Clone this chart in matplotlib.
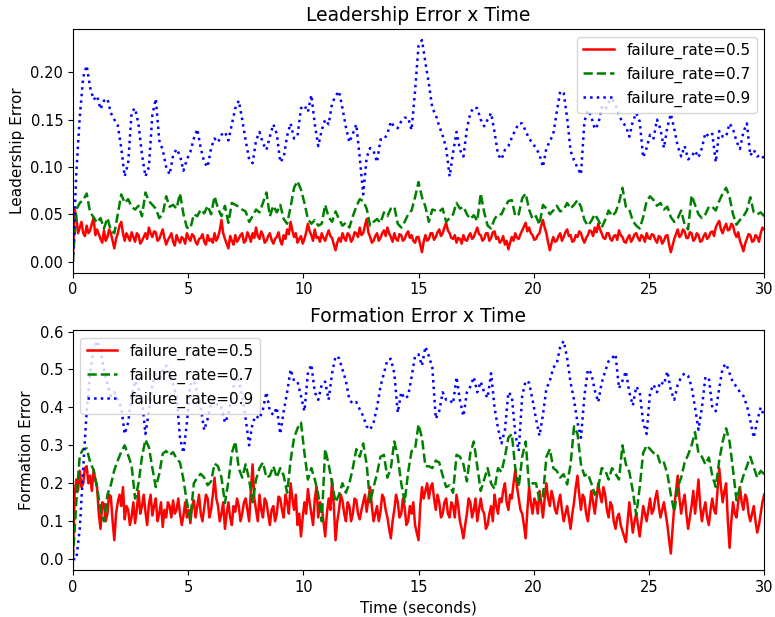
import numpy as np
import matplotlib.pyplot as plt

# leadership error, one row = 3 s
# (failure_rate=0.5 is sampled twice as often as the others, it is the noisiest)
lead_05 = [
    0.0, 0.055, 0.048, 0.03, 0.036, 0.042, 0.03, 0.027, 0.038, 0.03, 0.033, 0.04, 0.046, 0.028, 0.034, 0.029, 0.024, 0.02, 0.033, 0.022,
    0.026, 0.034, 0.03, 0.022, 0.014, 0.024, 0.03, 0.038, 0.042, 0.03, 0.022, 0.03, 0.026, 0.022, 0.031, 0.026, 0.021, 0.03, 0.028, 0.019,
    0.022, 0.026, 0.03, 0.024, 0.036, 0.03, 0.026, 0.032, 0.031, 0.022, 0.024, 0.029, 0.034, 0.025, 0.018, 0.023, 0.026, 0.03, 0.021, 0.017,
    0.028, 0.023, 0.02, 0.026, 0.024, 0.019, 0.03, 0.025, 0.022, 0.029, 0.027, 0.021, 0.018, 0.024, 0.025, 0.029, 0.021, 0.018, 0.028, 0.022,
    0.024, 0.02, 0.03, 0.022, 0.026, 0.033, 0.044, 0.03, 0.024, 0.019, 0.014, 0.027, 0.022, 0.018, 0.028, 0.021, 0.024, 0.028, 0.03, 0.02,
    0.022, 0.031, 0.027, 0.021, 0.03, 0.025, 0.036, 0.027, 0.024, 0.032, 0.028, 0.02, 0.022, 0.027, 0.03, 0.023, 0.019, 0.024, 0.026, 0.031,
    0.022, 0.018, 0.028, 0.024, 0.034, 0.029, 0.042, 0.033, 0.026, 0.03, 0.02, 0.024, 0.027, 0.019, 0.024, 0.031, 0.04, 0.032, 0.028, 0.022,
    0.034, 0.025, 0.026, 0.021, 0.03, 0.025, 0.022, 0.028, 0.033, 0.027, 0.025, 0.018, 0.012, 0.02, 0.025, 0.021, 0.03, 0.025, 0.022, 0.03,
    0.028, 0.021, 0.024, 0.031, 0.03, 0.026, 0.036, 0.028, 0.03, 0.038, 0.045, 0.031, 0.026, 0.02, 0.022, 0.027, 0.03, 0.022, 0.025, 0.03,
    0.033, 0.027, 0.036, 0.03, 0.026, 0.021, 0.03, 0.024, 0.022, 0.029, 0.028, 0.022, 0.024, 0.029, 0.032, 0.025, 0.028, 0.022, 0.02, 0.026,
    0.026, 0.018, 0.01, 0.021, 0.028, 0.022, 0.024, 0.03, 0.03, 0.023, 0.026, 0.031, 0.034, 0.027, 0.03, 0.036, 0.041, 0.033, 0.03, 0.025,
    0.024, 0.028, 0.02, 0.025, 0.024, 0.019, 0.028, 0.023, 0.022, 0.027, 0.03, 0.024, 0.026, 0.031, 0.036, 0.029, 0.028, 0.022, 0.024, 0.03,
    0.03, 0.022, 0.025, 0.031, 0.032, 0.024, 0.026, 0.02, 0.022, 0.027, 0.018, 0.022, 0.013, 0.02, 0.026, 0.022, 0.03, 0.025, 0.024, 0.029,
    0.033, 0.037, 0.041, 0.032, 0.036, 0.03, 0.028, 0.023, 0.024, 0.028, 0.03, 0.038, 0.044, 0.036, 0.03, 0.02, 0.012, 0.02, 0.026, 0.021,
    0.022, 0.027, 0.03, 0.022, 0.026, 0.031, 0.034, 0.027, 0.028, 0.021, 0.022, 0.028, 0.026, 0.032, 0.03, 0.024, 0.02, 0.025, 0.028, 0.033,
    0.032, 0.027, 0.036, 0.031, 0.04, 0.034, 0.03, 0.025, 0.024, 0.03, 0.03, 0.024, 0.022, 0.027, 0.028, 0.023, 0.033, 0.028, 0.026, 0.021,
    0.02, 0.025, 0.028, 0.021, 0.024, 0.029, 0.03, 0.025, 0.022, 0.028, 0.026, 0.021, 0.03, 0.025, 0.024, 0.029, 0.028, 0.023, 0.02, 0.027,
    0.026, 0.019, 0.022, 0.027, 0.028, 0.018, 0.01, 0.017, 0.024, 0.029, 0.034, 0.026, 0.028, 0.034, 0.032, 0.025, 0.025, 0.031, 0.03, 0.022,
    0.024, 0.03, 0.028, 0.021, 0.022, 0.027, 0.03, 0.024, 0.026, 0.031, 0.032, 0.027, 0.036, 0.04, 0.043, 0.034, 0.03, 0.036, 0.04, 0.033,
    0.034, 0.04, 0.038, 0.03, 0.026, 0.031, 0.022, 0.017, 0.011, 0.019, 0.024, 0.029, 0.028, 0.021, 0.022, 0.028, 0.026, 0.021, 0.03, 0.036,
    0.034]
lead_07 = [
    0.0, 0.055, 0.062, 0.065, 0.072, 0.052, 0.047, 0.041, 0.046, 0.035, 0.046, 0.033, 0.03, 0.05, 0.071, 0.062, 0.066, 0.058, 0.055, 0.059,
    0.048, 0.073, 0.064, 0.06, 0.056, 0.046, 0.05, 0.069, 0.058, 0.06, 0.056, 0.072, 0.05, 0.036, 0.035, 0.05, 0.048, 0.055, 0.051, 0.059,
    0.05, 0.069, 0.056, 0.048, 0.059, 0.041, 0.062, 0.06, 0.058, 0.055, 0.053, 0.042, 0.048, 0.055, 0.052, 0.062, 0.073, 0.048, 0.059, 0.052,
    0.06, 0.045, 0.04, 0.058, 0.078, 0.085, 0.076, 0.062, 0.045, 0.04, 0.044, 0.038, 0.04, 0.06, 0.047, 0.042, 0.053, 0.045, 0.038, 0.041,
    0.036, 0.048, 0.058, 0.066, 0.064, 0.056, 0.038, 0.042, 0.045, 0.041, 0.052, 0.048, 0.056, 0.058, 0.04, 0.036, 0.042, 0.05, 0.054, 0.068,
    0.084, 0.068, 0.058, 0.042, 0.055, 0.054, 0.053, 0.056, 0.042, 0.046, 0.05, 0.062, 0.056, 0.058, 0.05, 0.045, 0.049, 0.043, 0.072, 0.052,
    0.038, 0.035, 0.045, 0.05, 0.05, 0.058, 0.064, 0.065, 0.048, 0.05, 0.067, 0.072, 0.055, 0.045, 0.048, 0.039, 0.06, 0.056, 0.05, 0.054,
    0.059, 0.053, 0.055, 0.062, 0.056, 0.06, 0.065, 0.058, 0.044, 0.038, 0.043, 0.05, 0.044, 0.036, 0.044, 0.054, 0.048, 0.052, 0.062, 0.078,
    0.058, 0.055, 0.043, 0.038, 0.035, 0.047, 0.064, 0.069, 0.065, 0.059, 0.062, 0.055, 0.058, 0.047, 0.042, 0.046, 0.054, 0.039, 0.034, 0.07,
    0.06, 0.05, 0.046, 0.05, 0.058, 0.058, 0.054, 0.064, 0.072, 0.078, 0.068, 0.05, 0.039, 0.044, 0.048, 0.054, 0.068, 0.052, 0.05, 0.052,
    0.048]
lead_09 = [
    0.0, 0.094, 0.153, 0.195, 0.207, 0.184, 0.171, 0.175, 0.161, 0.17, 0.172, 0.157, 0.15, 0.144, 0.12, 0.09, 0.104, 0.158, 0.162, 0.145,
    0.113, 0.09, 0.1, 0.155, 0.172, 0.128, 0.118, 0.1, 0.092, 0.112, 0.119, 0.112, 0.096, 0.108, 0.116, 0.13, 0.14, 0.12, 0.105, 0.1,
    0.12, 0.13, 0.126, 0.134, 0.137, 0.128, 0.145, 0.162, 0.17, 0.15, 0.128, 0.108, 0.104, 0.128, 0.137, 0.125, 0.118, 0.132, 0.145, 0.135,
    0.105, 0.11, 0.133, 0.146, 0.13, 0.133, 0.162, 0.165, 0.158, 0.176, 0.145, 0.122, 0.139, 0.15, 0.145, 0.167, 0.175, 0.18, 0.162, 0.142,
    0.126, 0.135, 0.145, 0.11, 0.071, 0.11, 0.12, 0.117, 0.105, 0.129, 0.129, 0.135, 0.148, 0.142, 0.141, 0.148, 0.152, 0.152, 0.139, 0.18,
    0.228, 0.234, 0.21, 0.188, 0.162, 0.155, 0.143, 0.133, 0.12, 0.09, 0.115, 0.137, 0.118, 0.111, 0.14, 0.157, 0.163, 0.162, 0.15, 0.143,
    0.15, 0.157, 0.137, 0.113, 0.108, 0.118, 0.122, 0.131, 0.139, 0.146, 0.146, 0.138, 0.13, 0.125, 0.12, 0.113, 0.1, 0.12, 0.127, 0.135,
    0.158, 0.18, 0.178, 0.152, 0.117, 0.107, 0.099, 0.092, 0.148, 0.16, 0.153, 0.14, 0.145, 0.163, 0.16, 0.168, 0.172, 0.166, 0.155, 0.147,
    0.143, 0.132, 0.148, 0.157, 0.148, 0.11, 0.12, 0.134, 0.13, 0.15, 0.14, 0.12, 0.142, 0.156, 0.14, 0.122, 0.111, 0.122, 0.108, 0.111,
    0.117, 0.11, 0.12, 0.136, 0.132, 0.135, 0.105, 0.138, 0.132, 0.132, 0.146, 0.14, 0.127, 0.119, 0.137, 0.146, 0.112, 0.118, 0.111, 0.113,
    0.109]

# formation error
form_05 = [
    0.0, 0.17, 0.21, 0.18, 0.233, 0.19, 0.2, 0.24, 0.245, 0.2, 0.22, 0.18, 0.235, 0.21, 0.19, 0.12, 0.08, 0.15, 0.145, 0.1,
    0.12, 0.17, 0.165, 0.1, 0.05, 0.12, 0.15, 0.17, 0.14, 0.19, 0.105, 0.14, 0.13, 0.09, 0.112, 0.15, 0.095, 0.13, 0.18, 0.12,
    0.14, 0.17, 0.125, 0.09, 0.145, 0.17, 0.115, 0.14, 0.16, 0.1, 0.12, 0.15, 0.085, 0.13, 0.11, 0.15, 0.14, 0.11, 0.155, 0.12,
    0.13, 0.16, 0.12, 0.09, 0.115, 0.15, 0.11, 0.13, 0.095, 0.14, 0.155, 0.11, 0.14, 0.17, 0.12, 0.1, 0.135, 0.17, 0.16, 0.11,
    0.13, 0.17, 0.215, 0.16, 0.14, 0.1, 0.12, 0.15, 0.08, 0.12, 0.15, 0.11, 0.09, 0.14, 0.125, 0.16, 0.14, 0.1, 0.12, 0.15,
    0.16, 0.13, 0.1, 0.18, 0.25, 0.16, 0.13, 0.1, 0.17, 0.13, 0.11, 0.16, 0.15, 0.12, 0.09, 0.13, 0.14, 0.1, 0.12, 0.165,
    0.16, 0.13, 0.11, 0.17, 0.15, 0.12, 0.2, 0.16, 0.13, 0.17, 0.09, 0.12, 0.06, 0.11, 0.15, 0.12, 0.185, 0.15, 0.12, 0.09,
    0.16, 0.19, 0.11, 0.15, 0.14, 0.1, 0.06, 0.12, 0.16, 0.13, 0.21, 0.14, 0.05, 0.1, 0.13, 0.17, 0.155, 0.12, 0.1, 0.15,
    0.14, 0.1, 0.12, 0.16, 0.155, 0.12, 0.105, 0.13, 0.15, 0.17, 0.125, 0.16, 0.19, 0.14, 0.1, 0.12, 0.14, 0.1, 0.125, 0.17,
    0.16, 0.13, 0.11, 0.08, 0.055, 0.1, 0.13, 0.17, 0.15, 0.11, 0.12, 0.16, 0.135, 0.09, 0.1, 0.14, 0.12, 0.15, 0.09, 0.07,
    0.05, 0.14, 0.19, 0.16, 0.18, 0.2, 0.16, 0.19, 0.2, 0.16, 0.13, 0.17, 0.15, 0.11, 0.12, 0.15, 0.16, 0.12, 0.11, 0.15,
    0.14, 0.11, 0.17, 0.14, 0.1, 0.08, 0.055, 0.09, 0.12, 0.16, 0.15, 0.11, 0.13, 0.16, 0.1, 0.13, 0.16, 0.13, 0.12, 0.08,
    0.09, 0.12, 0.14, 0.1, 0.17, 0.14, 0.12, 0.16, 0.15, 0.18, 0.2, 0.15, 0.13, 0.17, 0.16, 0.2, 0.235, 0.19, 0.16, 0.13,
    0.12, 0.09, 0.055, 0.13, 0.19, 0.15, 0.12, 0.16, 0.15, 0.12, 0.18, 0.15, 0.11, 0.16, 0.2, 0.16, 0.14, 0.18, 0.16, 0.13,
    0.12, 0.15, 0.17, 0.13, 0.1, 0.12, 0.14, 0.11, 0.08, 0.12, 0.15, 0.19, 0.22, 0.17, 0.13, 0.17, 0.16, 0.12, 0.1, 0.14,
    0.18, 0.15, 0.12, 0.16, 0.2, 0.17, 0.15, 0.19, 0.17, 0.13, 0.11, 0.15, 0.14, 0.1, 0.08, 0.11, 0.12, 0.09, 0.075, 0.06,
    0.045, 0.1, 0.15, 0.11, 0.07, 0.1, 0.12, 0.09, 0.06, 0.1, 0.14, 0.12, 0.1, 0.13, 0.16, 0.12, 0.13, 0.16, 0.18, 0.14,
    0.11, 0.13, 0.15, 0.12, 0.09, 0.05, 0.015, 0.08, 0.14, 0.18, 0.22, 0.16, 0.12, 0.15, 0.17, 0.12, 0.08, 0.11, 0.14, 0.18,
    0.12, 0.16, 0.21, 0.14, 0.1, 0.13, 0.15, 0.11, 0.09, 0.13, 0.16, 0.13, 0.12, 0.18, 0.24, 0.19, 0.15, 0.18, 0.2, 0.1,
    0.03, 0.1, 0.15, 0.12, 0.11, 0.15, 0.19, 0.15, 0.13, 0.17, 0.16, 0.12, 0.1, 0.12, 0.14, 0.1, 0.07, 0.09, 0.12, 0.15,
    0.17]
form_07 = [
    0.0, 0.15, 0.274, 0.29, 0.292, 0.256, 0.235, 0.19, 0.13, 0.1, 0.17, 0.196, 0.235, 0.26, 0.283, 0.3, 0.274, 0.247, 0.16, 0.2,
    0.27, 0.315, 0.295, 0.24, 0.19, 0.225, 0.278, 0.285, 0.274, 0.282, 0.265, 0.255, 0.21, 0.15, 0.105, 0.2, 0.215, 0.225, 0.215, 0.195,
    0.205, 0.252, 0.245, 0.215, 0.148, 0.205, 0.28, 0.31, 0.24, 0.215, 0.25, 0.21, 0.15, 0.21, 0.24, 0.255, 0.215, 0.22, 0.245, 0.215,
    0.24, 0.22, 0.175, 0.26, 0.32, 0.345, 0.36, 0.28, 0.21, 0.24, 0.21, 0.17, 0.1, 0.29, 0.25, 0.2, 0.15, 0.17, 0.2, 0.175,
    0.2, 0.24, 0.29, 0.27, 0.305, 0.25, 0.15, 0.19, 0.225, 0.27, 0.275, 0.215, 0.24, 0.31, 0.27, 0.2, 0.15, 0.23, 0.285, 0.29,
    0.355, 0.32, 0.245, 0.245, 0.24, 0.26, 0.255, 0.22, 0.19, 0.195, 0.175, 0.275, 0.27, 0.25, 0.205, 0.28, 0.31, 0.245, 0.18, 0.21,
    0.24, 0.2, 0.185, 0.24, 0.23, 0.27, 0.32, 0.33, 0.24, 0.19, 0.27, 0.31, 0.19, 0.2, 0.2, 0.155, 0.165, 0.27, 0.29, 0.24,
    0.233, 0.215, 0.224, 0.197, 0.25, 0.35, 0.33, 0.25, 0.22, 0.225, 0.2, 0.17, 0.19, 0.24, 0.235, 0.21, 0.24, 0.225, 0.21, 0.3,
    0.25, 0.23, 0.18, 0.116, 0.19, 0.28, 0.3, 0.29, 0.28, 0.28, 0.25, 0.255, 0.225, 0.17, 0.125, 0.19, 0.215, 0.255, 0.275, 0.3,
    0.335, 0.28, 0.27, 0.25, 0.268, 0.22, 0.19, 0.26, 0.31, 0.345, 0.31, 0.235, 0.155, 0.19, 0.22, 0.245, 0.27, 0.242, 0.215, 0.233,
    0.224]
form_09 = [
    0.0, 0.0, 0.08, 0.24, 0.39, 0.49, 0.555, 0.575, 0.55, 0.5, 0.46, 0.43, 0.44, 0.42, 0.4, 0.33, 0.36, 0.43, 0.47, 0.45,
    0.42, 0.33, 0.39, 0.46, 0.49, 0.47, 0.5, 0.51, 0.49, 0.46, 0.43, 0.32, 0.28, 0.36, 0.46, 0.47, 0.44, 0.4, 0.34, 0.37,
    0.41, 0.43, 0.4, 0.4, 0.36, 0.38, 0.43, 0.48, 0.47, 0.43, 0.37, 0.3, 0.36, 0.378, 0.37, 0.395, 0.44, 0.39, 0.38, 0.4,
    0.33, 0.39, 0.44, 0.5, 0.47, 0.468, 0.43, 0.39, 0.49, 0.513, 0.44, 0.42, 0.46, 0.468, 0.42, 0.49, 0.535, 0.53, 0.5, 0.47,
    0.42, 0.41, 0.414, 0.395, 0.377, 0.35, 0.341, 0.36, 0.4, 0.455, 0.49, 0.525, 0.528, 0.49, 0.386, 0.44, 0.423, 0.43, 0.48, 0.535,
    0.54, 0.51, 0.56, 0.535, 0.505, 0.37, 0.39, 0.44, 0.42, 0.42, 0.41, 0.48, 0.418, 0.377, 0.44, 0.455, 0.48, 0.44, 0.468, 0.44,
    0.425, 0.49, 0.4, 0.345, 0.305, 0.34, 0.44, 0.43, 0.33, 0.285, 0.43, 0.47, 0.465, 0.42, 0.37, 0.325, 0.38, 0.45, 0.47, 0.505,
    0.515, 0.56, 0.575, 0.53, 0.465, 0.42, 0.36, 0.32, 0.43, 0.5, 0.49, 0.445, 0.414, 0.465, 0.495, 0.522, 0.53, 0.54, 0.45, 0.47,
    0.495, 0.44, 0.405, 0.455, 0.44, 0.36, 0.33, 0.44, 0.46, 0.44, 0.468, 0.46, 0.495, 0.445, 0.42, 0.46, 0.48, 0.49, 0.483, 0.455,
    0.4, 0.341, 0.4, 0.48, 0.477, 0.4, 0.39, 0.45, 0.505, 0.515, 0.49, 0.465, 0.455, 0.44, 0.43, 0.405, 0.365, 0.32, 0.365, 0.4,
    0.377]

labels = ['failure_rate=0.5', 'failure_rate=0.7', 'failure_rate=0.9']
styles = ['r-', 'g--', 'b:']


def time_of(values):
    # samples are evenly spaced over the 30 s run
    return np.linspace(0, 30, len(values))


fig = plt.figure(figsize=(7.75, 6.17), dpi=100)
ax1 = fig.add_axes([0.094, 0.558, 0.892, 0.395])
ax2 = fig.add_axes([0.094, 0.076, 0.892, 0.389])

for vals, st, lab in zip([lead_05, lead_07, lead_09], styles, labels):
    ax1.plot(time_of(vals), vals, st, lw=1.8, label=lab)
ax1.set_title('Leadership Error x Time', fontsize=13.5)
ax1.set_ylabel('Leadership Error', fontsize=11)
ax1.set_xlim(0, 30)
ax1.legend(loc='upper right', fontsize=11)

for vals, st, lab in zip([form_05, form_07, form_09], styles, labels):
    ax2.plot(time_of(vals), vals, st, lw=1.8, label=lab)
ax2.set_title('Formation Error x Time', fontsize=13.5)
ax2.set_ylabel('Formation Error', fontsize=11)
ax2.set_xlabel('Time (seconds)', fontsize=11)
ax2.set_xlim(0, 30)
ax2.legend(loc='upper left', fontsize=11)

for ax in (ax1, ax2):
    ax.tick_params(labelsize=10.5)

fig.savefig('out.png', dpi=100)
